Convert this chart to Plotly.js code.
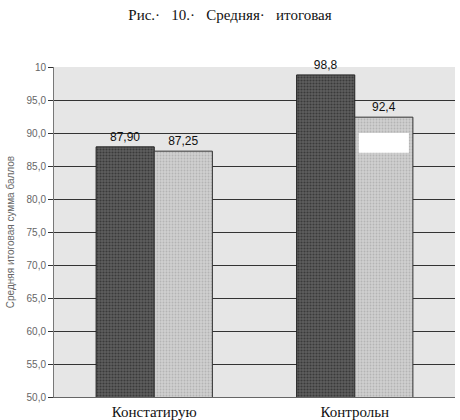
<!DOCTYPE html>
<html>
<head>
<meta charset="utf-8">
<script src="https://cdn.plot.ly/plotly-3.0.1.min.js"></script>
<style>html,body{margin:0;padding:0;background:#fff;}#chart{width:460px;height:420px;}</style>
</head>
<body>
<div id="chart"></div>
<script>
const categories = ["Констатирую", "Контрольн"];
const seriesA = [87.90, 98.8];
const seriesB = [87.25, 92.4];
const labelsA = ["87,90", "98,8"];
const labelsB = ["87,25", "92,4"];
const tickVals = [50, 55, 60, 65, 70, 75, 80, 85, 90, 95, 100];
const tickText = ["50,0", "55,0", "60,0", "65,0", "70,0", "75,0", "80,0", "85,0", "90,0", "95,0", "10"];

const traces = [
  {
    type: "bar", x: categories, y: seriesA, text: labelsA,
    textposition: "outside", cliponaxis: false,
    textfont: {family: "Arial, Liberation Sans, sans-serif", size: 12, color: "#111"},
    marker: {color: "#555555", line: {color: "#222", width: 1},
             pattern: {shape: ".", fgcolor: "#3a3a3a", bgcolor: "#5e5e5e", size: 3, solidity: 0.4}},
    hoverinfo: "none"
  },
  {
    type: "bar", x: categories, y: seriesB, text: labelsB,
    textposition: "outside", cliponaxis: false,
    textfont: {family: "Arial, Liberation Sans, sans-serif", size: 12, color: "#111"},
    marker: {color: "#c8c8c8", line: {color: "#333", width: 1},
             pattern: {shape: ".", fgcolor: "#b4b4b4", bgcolor: "#d0d0d0", size: 3, solidity: 0.3}},
    hoverinfo: "none"
  }
];

const layout = {
  width: 460, height: 420,
  margin: {l: 54, r: 5, t: 67, b: 23},
  paper_bgcolor: "#ffffff",
  plot_bgcolor: "#e6e6e6",
  showlegend: false,
  barmode: "group",
  bargap: 0.42,
  bargroupgap: 0,
  title: {
    text: "Рис.·   10.·   Средняя·   итоговая",
    x: 0.5, xanchor: "center", y: 0.966, yanchor: "middle",
    font: {family: "Liberation Serif, Times New Roman, serif", size: 15, color: "#111"}
  },
  xaxis: {
    type: "category",
    showgrid: false, zeroline: false,
    showline: true, linecolor: "#666", linewidth: 1,
    ticks: "",
    tickfont: {family: "Liberation Serif, Times New Roman, serif", size: 15, color: "#111"},
    ticklabelstandoff: 1
  },
  yaxis: {
    range: [50, 100],
    tickvals: tickVals, ticktext: tickText,
    showgrid: true, gridcolor: "#333", gridwidth: 1,
    zeroline: false,
    showline: true, linecolor: "#777", linewidth: 1,
    ticks: "outside", ticklen: 5, tickcolor: "#333",
    tickfont: {family: "Arial, Liberation Sans, sans-serif", size: 10, color: "#666"},
    title: {
      text: "Средняя итоговая сумма баллов",
      font: {family: "Arial, Liberation Sans, sans-serif", size: 10, color: "#666"},
      standoff: 10
    }
  },
  shapes: [
    {type: "rect", xref: "paper", yref: "y", x0: 0.76, x1: 0.885, y0: 87.0, y1: 90.0,
     fillcolor: "#ffffff", line: {width: 0}, layer: "above"}
  ]
};

Plotly.newPlot("chart", traces, layout, {staticPlot: true, displayModeBar: false});
</script>
</body>
</html>
